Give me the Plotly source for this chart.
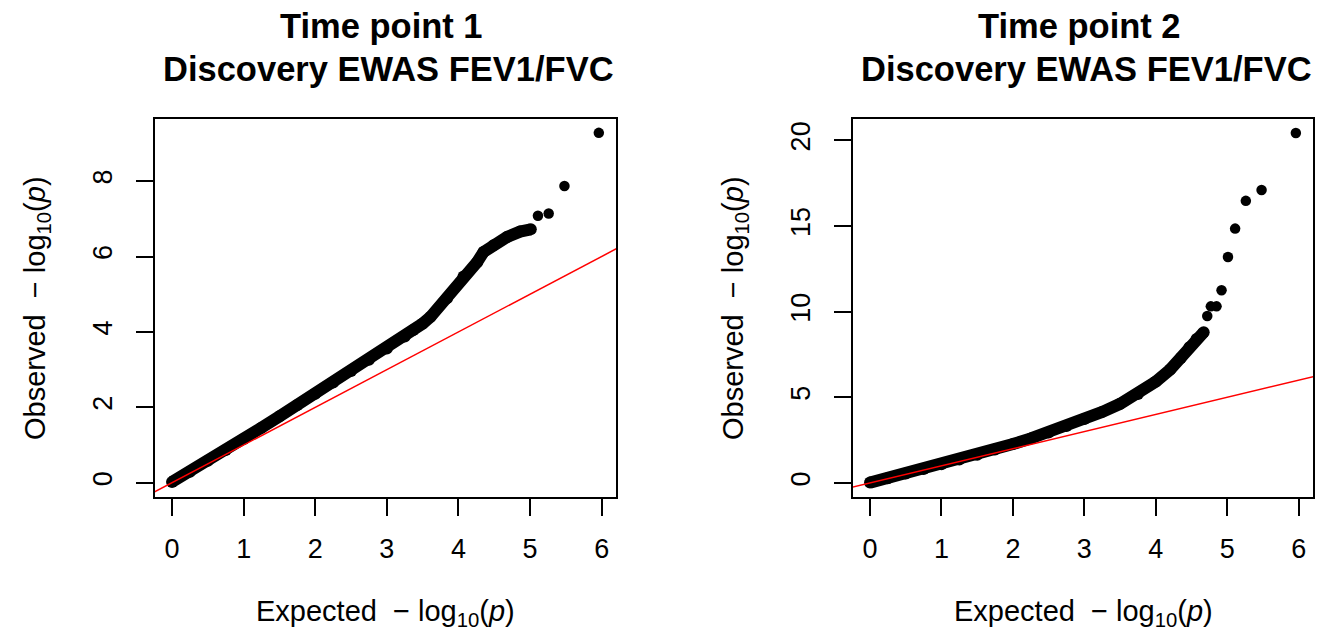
import plotly.graph_objects as go

# ---------------- data ----------------
# Time point 1: dense part of the QQ curve
tp1_band_expected = [0.0, 0.25, 0.5, 0.75, 1.0, 1.25, 1.5, 1.75, 2.0, 2.25, 2.5, 2.75,
                     3.0, 3.25, 3.37, 3.5, 3.61, 3.84, 4.07, 4.26, 4.35, 4.49, 4.68, 4.86, 5.01]
tp1_band_observed = [0.02, 0.29, 0.58, 0.87, 1.16, 1.46, 1.76, 2.06, 2.36, 2.66, 2.96, 3.26,
                     3.56, 3.88, 4.05, 4.22, 4.40, 4.89, 5.47, 5.85, 6.12, 6.30, 6.52, 6.66, 6.72]
# Time point 1: isolated top points
tp1_tail_expected = [5.11, 5.26, 5.48, 5.96]
tp1_tail_observed = [7.08, 7.14, 7.87, 9.28]

# Time point 2: dense part of the QQ curve
tp2_band_expected = [0.0, 0.25, 0.5, 0.75, 1.0, 1.25, 1.5, 1.75, 2.0, 2.25, 2.5, 2.75,
                     3.0, 3.25, 3.5, 3.75, 4.0, 4.2, 4.35, 4.47, 4.57, 4.67]
tp2_band_observed = [0.02, 0.28, 0.55, 0.82, 1.09, 1.37, 1.65, 1.95, 2.27, 2.60, 2.95, 3.33,
                     3.73, 4.15, 4.62, 5.20, 5.92, 6.62, 7.30, 7.92, 8.41, 8.80]
# Time point 2: isolated top points
tp2_tail_expected = [4.72, 4.77, 4.85, 4.92, 5.01, 5.11, 5.26, 5.48, 5.96]
tp2_tail_observed = [9.75, 10.31, 10.31, 11.25, 13.19, 14.85, 16.47, 17.10, 20.43]

# identity reference line (y = x), clipped by the axes
identity_line = [-1.0, 7.0]

x_ticks = [0, 1, 2, 3, 4, 5, 6]
tp1_y_ticks = [0, 2, 4, 6, 8]
tp2_y_ticks = [0, 5, 10, 15, 20]

titles_line1 = ["Time point 1", "Time point 2"]
title_line2 = "Discovery EWAS FEV1/FVC"
x_label = "Expected  \u2212 log<sub>10</sub>(<i>p</i>)"
y_label = "Observed  \u2212 log<sub>10</sub>(<i>p</i>)"

# ---------------- layout constants ----------------
W, H = 1327, 633
FONT = "Liberation Sans, Arial, Helvetica, sans-serif"
panels_px = [(155, 616), (853, 1313)]   # plot-box left/right in px
box_top, box_bottom = 119, 497


def px_x(p):
    return p / W


def px_y(p):
    return 1 - p / H


fig = go.Figure()

panel_data = [
    (tp1_band_expected, tp1_band_observed, tp1_tail_expected, tp1_tail_observed),
    (tp2_band_expected, tp2_band_observed, tp2_tail_expected, tp2_tail_observed),
]

for i, (bx, by, tx, ty) in enumerate(panel_data):
    xa = "x" if i == 0 else "x2"
    ya = "y" if i == 0 else "y2"
    fig.add_trace(go.Scatter(x=bx, y=by, mode="lines+markers",
                             line=dict(color="black", width=12),
                             marker=dict(color="black", size=12, line=dict(width=0)),
                             xaxis=xa, yaxis=ya, hoverinfo="skip", showlegend=False))
    fig.add_trace(go.Scatter(x=tx, y=ty, mode="markers",
                             marker=dict(color="black", size=10.5, line=dict(width=0)),
                             xaxis=xa, yaxis=ya, hoverinfo="skip", showlegend=False))
    fig.add_trace(go.Scatter(x=identity_line, y=identity_line, mode="lines",
                             line=dict(color="#ff0000", width=1.5),
                             xaxis=xa, yaxis=ya, hoverinfo="skip", showlegend=False))

axis_common = dict(showline=True, linecolor="black", linewidth=1.5, mirror=True,
                   ticks="outside", ticklen=17, tickwidth=1.5, tickcolor="black",
                   showgrid=False, zeroline=False,
                   tickfont=dict(family=FONT, size=27, color="black"))

y_ranges = [[-0.379, 9.647], [-0.82, 21.25]]
y_tickvals = [tp1_y_ticks, tp2_y_ticks]

layout_axes = {}
for i, (l, r) in enumerate(panels_px):
    sfx = "" if i == 0 else "2"
    layout_axes["xaxis" + sfx] = dict(axis_common, domain=[px_x(l), px_x(r)],
                                      range=[-0.238, 6.2], tickvals=x_ticks,
                                      anchor="y" + sfx, ticklabelstandoff=10)
    layout_axes["yaxis" + sfx] = dict(axis_common, domain=[px_y(box_bottom), px_y(box_top)],
                                      range=y_ranges[i], tickvals=y_tickvals[i],
                                      tickangle=-90, anchor="x" + sfx, ticklabelstandoff=13)

annotations = []
for i, (l, r) in enumerate(panels_px):
    cx = (l + r) / 2
    annotations.append(dict(text=titles_line1[i], x=px_x(cx - 4), y=px_y(26), xref="paper", yref="paper",
                            showarrow=False, xanchor="center", yanchor="middle",
                            font=dict(family=FONT, size=34.5, color="black", weight="bold")))
    annotations.append(dict(text=title_line2, x=px_x(cx + 3), y=px_y(69), xref="paper", yref="paper",
                            showarrow=False, xanchor="center", yanchor="middle",
                            font=dict(family=FONT, size=34.5, color="black", weight="bold")))
    annotations.append(dict(text=x_label, x=px_x(cx), y=px_y(613), xref="paper", yref="paper",
                            showarrow=False, xanchor="center", yanchor="middle",
                            font=dict(family=FONT, size=29, color="black")))
    annotations.append(dict(text=y_label, x=px_x(l - 118), y=px_y((box_top + box_bottom) / 2),
                            xref="paper", yref="paper", textangle=-90,
                            showarrow=False, xanchor="center", yanchor="middle",
                            font=dict(family=FONT, size=29, color="black")))

fig.update_layout(width=W, height=H, margin=dict(l=0, r=0, t=0, b=0),
                  paper_bgcolor="white", plot_bgcolor="white", showlegend=False,
                  annotations=annotations, **layout_axes)

fig.write_html("out.html")
